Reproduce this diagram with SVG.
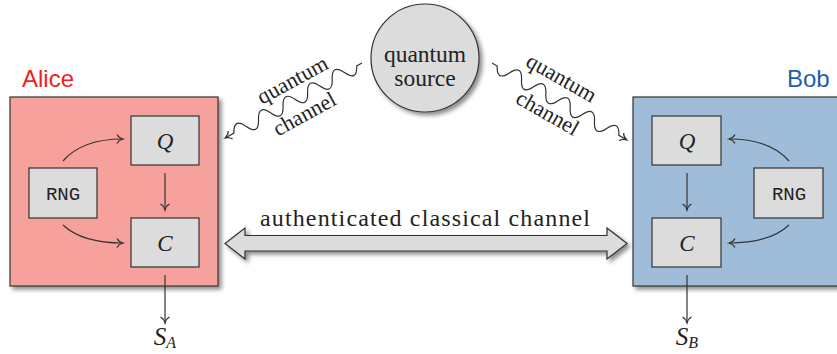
<svg xmlns="http://www.w3.org/2000/svg" width="837" height="354" viewBox="0 0 837 354">
<style>
.box{stroke:#333;stroke-width:1.2}
.node{fill:#dcdcdc;stroke:#333;stroke-width:1.2}
.ln{fill:none;stroke:#333;stroke-width:1.2}
.sf{font-family:'Liberation Serif','DejaVu Serif','Noto Serif','Times New Roman',Times,serif;fill:#222}
.tt{font-family:'Liberation Mono','DejaVu Sans Mono','Courier New',Courier,monospace;fill:#222}
.ss{font-family:'Liberation Sans','DejaVu Sans',Arial,sans-serif}
</style>
<defs>
<filter id="sh" x="-20%" y="-20%" width="150%" height="150%">
<feGaussianBlur in="SourceAlpha" stdDeviation="2"/>
<feOffset dx="3" dy="3" result="b"/>
<feFlood flood-color="#000" flood-opacity="0.45"/>
<feComposite in2="b" operator="in"/>
<feMerge><feMergeNode/><feMergeNode in="SourceGraphic"/></feMerge>
</filter>
<marker id="to" viewBox="-8 -6 10 12" refX="0" refY="0" markerWidth="10" markerHeight="12" markerUnits="userSpaceOnUse" orient="auto" overflow="visible">
<path d="M-6,-4.5 C-4.5,-1.5 -1.5,-0.4 0,0 C-1.5,0.4 -4.5,1.5 -6,4.5" fill="none" stroke="#333" stroke-width="1.2"/>
</marker>
</defs>

<g id="alice">
<rect class="box" x="10" y="97" width="208" height="189" fill="#f6a19b" filter="url(#sh)"/>
<text class="ss" x="22" y="87" fill="#f01e1e" font-size="24">Alice</text>
</g>
<g id="bob">
<rect class="box" x="633" y="97" width="210" height="189" fill="#9fbdd8" filter="url(#sh)"/>
<text class="ss" x="787" y="87" fill="#1f5fa6" font-size="24">Bob</text>
</g>

<g id="alice-q"><rect class="node" x="131" y="116" width="68" height="49"/><text class="sf" x="165" y="149" font-size="23" font-style="italic" text-anchor="middle">Q</text></g>
<g id="alice-c"><rect class="node" x="131" y="218" width="68" height="49"/><text class="sf" x="165" y="251" font-size="23" font-style="italic" text-anchor="middle">C</text></g>
<g id="bob-q"><rect class="node" x="652" y="116" width="69" height="49"/><text class="sf" x="687" y="149" font-size="23" font-style="italic" text-anchor="middle">Q</text></g>
<g id="bob-c"><rect class="node" x="652" y="218" width="69" height="49"/><text class="sf" x="687" y="251" font-size="23" font-style="italic" text-anchor="middle">C</text></g>

<g id="alice-rng"><rect class="node" x="29" y="168" width="68" height="50"/><text class="tt" x="63" y="200" font-size="19" text-anchor="middle">RNG</text></g>
<g id="bob-rng"><rect class="node" x="754" y="168" width="69" height="50"/><text class="tt" x="789" y="200" font-size="19" text-anchor="middle">RNG</text></g>

<g id="source">
<circle cx="425" cy="58" r="54" fill="#dcdcdc" stroke="#333" stroke-width="1.2" filter="url(#sh)"/>
<text class="sf" font-size="23.5" text-anchor="middle"><tspan x="425" y="62">quantum</tspan><tspan x="425" y="86">source</tspan></text>
</g>

<g id="classical">
<polygon points="225,243.5 245,228 245,235.5 607,235.5 607,228 627,243.5 607,259 607,251 245,251 245,259" fill="#dcdcdc" stroke="#333" stroke-width="1.2" filter="url(#sh)"/>
<text class="sf" x="425" y="226" font-size="24" text-anchor="middle" textLength="330" lengthAdjust="spacing">authenticated classical channel</text>
</g>

<g id="connectors">
<path class="ln" marker-end="url(#to)" transform="translate(362,63) rotate(151.3)" d="M0,0 L6,0 q7,-14 14,0 t14,0 t14,0 t14,0 t14,0 t14,0 t14,0 t14,0 t14,0 t14,0 L156,0"/>
<path class="ln" marker-end="url(#to)" transform="translate(492,63) rotate(29.7)" d="M0,0 L6,0 q7,14 14,0 t14,0 t14,0 t14,0 t14,0 t14,0 t14,0 t14,0 t14,0 t14,0 L155,0"/>
<path class="ln" marker-end="url(#to)" d="M165,173 L165,210"/>
<path class="ln" marker-end="url(#to)" d="M63,161 Q82,139 123,139"/>
<path class="ln" marker-end="url(#to)" d="M63,225 Q82,243 123,243"/>
<path class="ln" marker-end="url(#to)" d="M165,275 L165,323"/>
<path class="ln" marker-end="url(#to)" d="M687,173 L687,210"/>
<path class="ln" marker-end="url(#to)" d="M789,161 Q770,139 729,139"/>
<path class="ln" marker-end="url(#to)" d="M789,225 Q770,243 729,243"/>
<path class="ln" marker-end="url(#to)" d="M687,275 L687,323"/>
</g>

<g id="labels">
<text class="sf" font-size="22" text-anchor="middle" transform="translate(293,81) rotate(-28.7)" y="6">quantum</text>
<text class="sf" font-size="22" text-anchor="middle" transform="translate(305,115) rotate(-28.7)" y="6">channel</text>
<text class="sf" font-size="22" text-anchor="middle" transform="translate(561,79) rotate(29.7)" y="6">quantum</text>
<text class="sf" font-size="22" text-anchor="middle" transform="translate(547,114) rotate(29.7)" y="6">channel</text>
<text class="sf" x="165" y="345" font-size="25" font-style="italic" text-anchor="middle">S<tspan font-size="16" dy="3">A</tspan></text>
<text class="sf" x="687" y="345" font-size="25" font-style="italic" text-anchor="middle">S<tspan font-size="16" dy="3">B</tspan></text>
</g>
</svg>
